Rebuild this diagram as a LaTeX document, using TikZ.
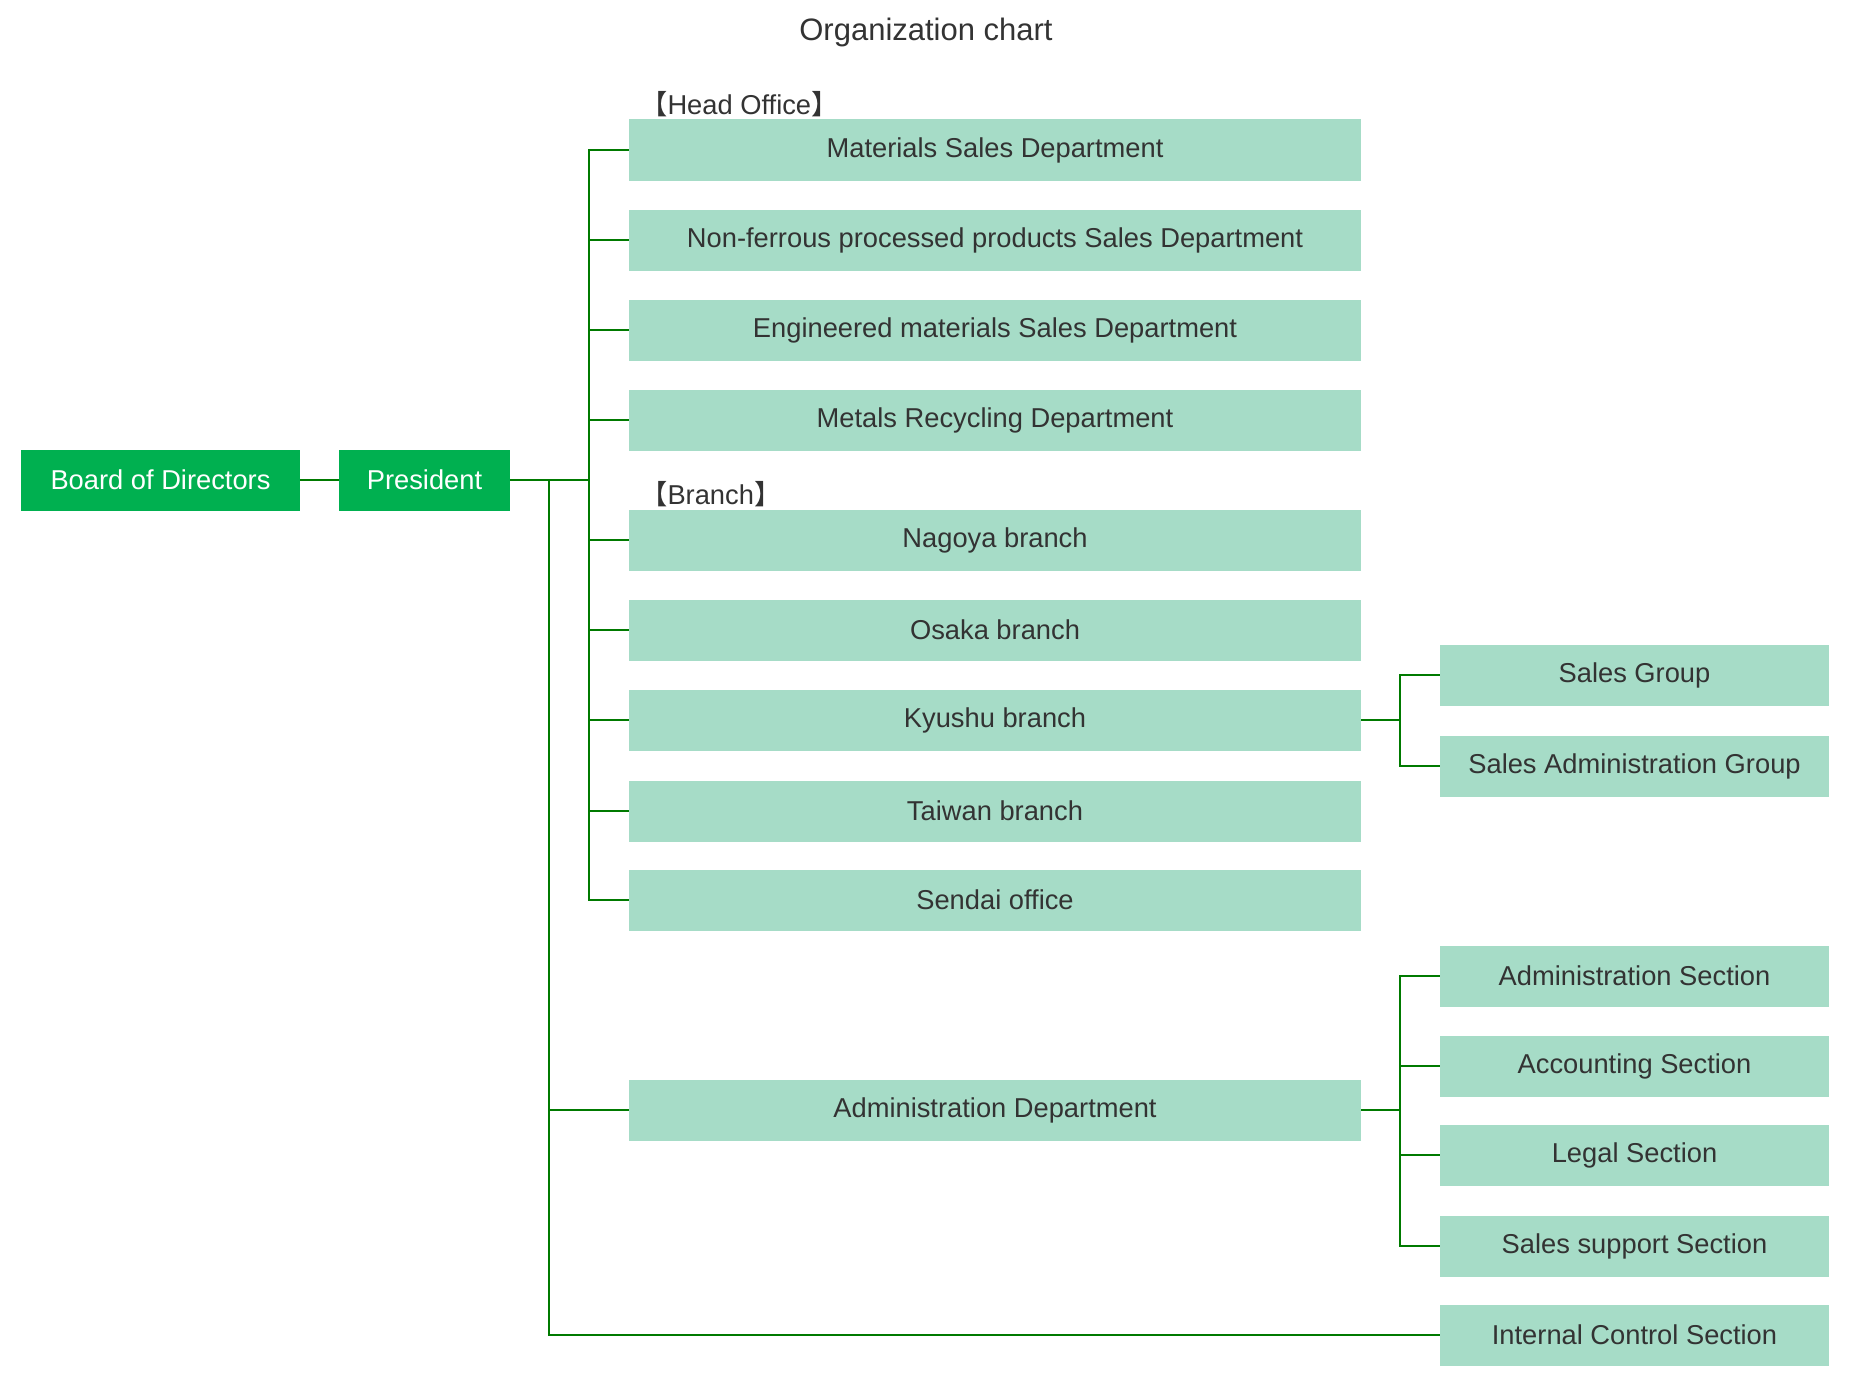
\documentclass[tikz,border=0pt]{standalone}
\usepackage{fontspec}
\setmainfont{Liberation Sans}
\newfontfamily\cjk{Noto Sans CJK JP}
\begin{document}
\begin{tikzpicture}[x=1pt,y=-1pt,
  dk/.style={fill=boxdark,text=white,minimum height=61pt,inner sep=0pt,font=\fontsize{27.3}{30}\selectfont},
  lt/.style={fill=boxlight,text=txt,minimum height=61pt,inner sep=0pt,font=\fontsize{27.3}{30}\selectfont},
  mid/.style={lt,minimum width=732pt},
  rt/.style={lt,minimum width=389pt},
  ln/.style={draw=lineg,line width=2pt},
  lbl/.style={text=txt,font=\fontsize{27.3}{30}\selectfont,inner sep=0pt}]
\definecolor{boxdark}{HTML}{00B050}
\definecolor{boxlight}{HTML}{A6DCC7}
\definecolor{lineg}{HTML}{007A00}
\definecolor{txt}{HTML}{333333}
\useasboundingbox (0,0) rectangle (1849,1386);
\node[lbl,font=\fontsize{31}{34}\selectfont] (title) at (926,32) {Organization chart};
\node[dk,minimum width=279pt] (bod) at (160.5,480) {Board of Directors};
\node[dk,minimum width=171pt] (pres) at (424.5,480) {President};
\node[lbl,anchor=west] (ho) at (640,104) {{\cjk 【}Head Office{\cjk 】}};
\node[lbl,anchor=west] (br) at (640,494) {{\cjk 【}Branch{\cjk 】}};
\node[mid] (m1) at (995,150) {Materials Sales Department};
\node[mid] (m2) at (995,240) {Non-ferrous processed products Sales Department};
\node[mid] (m3) at (995,330) {Engineered materials Sales Department};
\node[mid] (m4) at (995,420) {Metals Recycling Department};
\node[mid] (b1) at (995,540) {Nagoya branch};
\node[mid] (b2) at (995,630) {Osaka branch};
\node[mid] (b3) at (995,720) {Kyushu branch};
\node[mid] (b4) at (995,811) {Taiwan branch};
\node[mid] (b5) at (995,900) {Sendai office};
\node[mid] (ad) at (995,1110) {Administration Department};
\node[rt] (k1) at (1634.5,675) {Sales Group};
\node[rt] (k2) at (1634.5,766) {Sales Administration Group};
\node[rt] (a1) at (1634.5,976) {Administration Section};
\node[rt] (a2) at (1634.5,1066) {Accounting Section};
\node[rt] (a3) at (1634.5,1155) {Legal Section};
\node[rt] (a4) at (1634.5,1246) {Sales support Section};
\node[rt] (ic) at (1634.5,1335) {Internal Control Section};
\coordinate (t1) at (589,480);
\coordinate (t2) at (549,480);
\draw[ln] (bod) -- (pres);
\draw[ln] (pres) -- (t1);
\foreach \n in {m1,m2,m3,m4,b1,b2,b3,b4,b5} \draw[ln] (\n.west) -| (t1);
\draw[ln] (t2) |- (ic.west);
\draw[ln] (ad.west) -- (ad.west -| t2);
\coordinate (kx) at (1400,720);
\draw[ln] (b3.east) -- (kx);
\foreach \n in {k1,k2} \draw[ln] (\n.west) -| (kx);
\coordinate (ax) at (1400,1110);
\draw[ln] (ad.east) -- (ax);
\foreach \n in {a1,a2,a3,a4} \draw[ln] (\n.west) -| (ax);
\end{tikzpicture}
\end{document}
